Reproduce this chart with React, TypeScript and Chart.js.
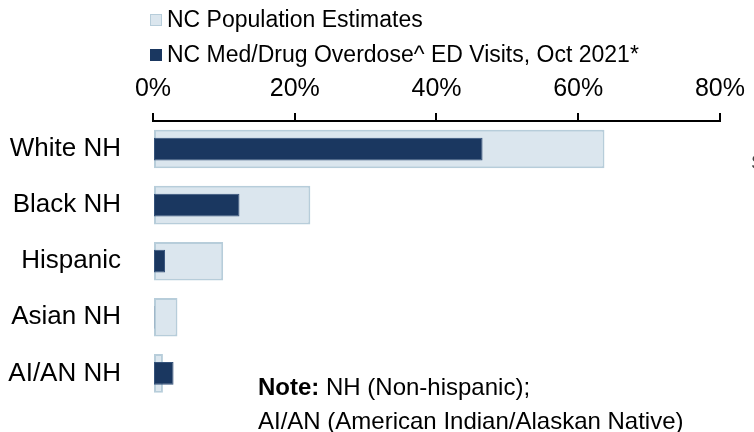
import { useEffect, useRef } from "react";
import { Chart, registerables } from "chart.js";

Chart.register(...registerables);

const categories = ["White NH", "Black NH", "Hispanic", "Asian NH", "AI/AN NH"];
const populationEstimates = [63.7, 22.2, 9.9, 3.45, 1.4];
const overdoseVisits = [46.5, 12.2, 1.7, 0.2, 2.9];
const xTicks = [0, 20, 40, 60, 80];

const legendItems = [
  { label: "NC Population Estimates", fill: "#dbe6ee", border: "#b7cdda" },
  { label: "NC Med/Drug Overdose^ ED Visits, Oct 2021*", fill: "#1a3760", border: "#1a3760" },
];

const FONT = '"Liberation Sans", Arial, sans-serif';

export default function App() {
  const chartRef = useRef<HTMLCanvasElement>(null);
  const chartInstance = useRef<Chart | null>(null);

  useEffect(() => {
    if (!chartRef.current) return;
    if (chartInstance.current) chartInstance.current.destroy();

    const ctx = chartRef.current.getContext("2d");
    if (!ctx) return;

    chartInstance.current = new Chart(ctx, {
      type: "bar",
      data: {
        labels: categories,
        datasets: [
          {
            label: legendItems[1].label,
            data: overdoseVisits,
            backgroundColor: "#1a3760",
            borderColor: "#34527a",
            borderWidth: 1,
            borderSkipped: false,
            barPercentage: 0.406,
            categoryPercentage: 1,
            grouped: false,
            order: 0,
          },
          {
            label: legendItems[0].label,
            data: populationEstimates,
            backgroundColor: "#dbe6ee",
            borderColor: "#b7cdda",
            borderWidth: 2,
            borderSkipped: false,
            barPercentage: 0.6875,
            categoryPercentage: 1,
            grouped: false,
            order: 1,
          },
        ],
      },
      options: {
        indexAxis: "y",
        animation: false,
        responsive: true,
        maintainAspectRatio: false,
        layout: { padding: { top: 0, right: 27, bottom: 0, left: 0 } },
        plugins: {
          legend: { display: false },
          tooltip: { enabled: false },
        },
        scales: {
          x: {
            position: "top",
            min: xTicks[0],
            max: xTicks[xTicks.length - 1],
            afterBuildTicks: (scale) => {
              scale.ticks = xTicks.map((v) => ({ value: v }));
            },
            afterFit: (scale) => {
              scale.height = 121;
            },
            ticks: {
              callback: (v) => `${v}%`,
              color: "#000",
              font: { family: FONT, size: 25 },
              padding: 9,
            },
            grid: {
              drawOnChartArea: false,
              drawTicks: true,
              tickLength: 8,
              color: "#000",
              lineWidth: 2,
            },
            border: { display: true, color: "#000", width: 2 },
          },
          y: {
            afterFit: (scale) => {
              scale.width = 153;
            },
            ticks: {
              color: "#000",
              font: { family: FONT, size: 26 },
              padding: 24,
            },
            grid: { display: false },
            border: { display: false },
          },
        },
      },
    });

    return () => {
      if (chartInstance.current) {
        chartInstance.current.destroy();
        chartInstance.current = null;
      }
    };
  }, []);

  return (
    <div
      style={{
        position: "fixed",
        left: 0,
        top: 0,
        width: 754,
        height: 432,
        overflow: "hidden",
        background: "#fff",
        fontFamily: FONT,
        color: "#000",
      }}
    >
      <div style={{ position: "absolute", left: 0, top: 0, width: 754, height: 441 }}>
        <canvas ref={chartRef}></canvas>
      </div>

      {/* legend */}
      <div style={{ position: "absolute", left: 150, top: 2, fontSize: 23 }}>
        {legendItems.map((item) => (
          <div key={item.label} style={{ display: "flex", alignItems: "center", height: 35 }}>
            <span
              style={{
                display: "inline-block",
                width: 10,
                height: 10,
                background: item.fill,
                border: `1.5px solid ${item.border}`,
                marginRight: 5,
              }}
            ></span>
            <span style={{ whiteSpace: "nowrap" }}>{item.label}</span>
          </div>
        ))}
      </div>

      {/* note */}
      <div style={{ position: "absolute", left: 258, top: 370, fontSize: 24, lineHeight: "33.5px", whiteSpace: "nowrap" }}>
        <div>
          <b>Note:</b> NH (Non-hispanic);
        </div>
        <div>AI/AN (American Indian/Alaskan Native)</div>
      </div>

      {/* clipped text at right edge */}
      <div style={{ position: "absolute", left: 751, top: 151, fontSize: 20, whiteSpace: "nowrap", color: "#444" }}>
        S
      </div>
    </div>
  );
}
